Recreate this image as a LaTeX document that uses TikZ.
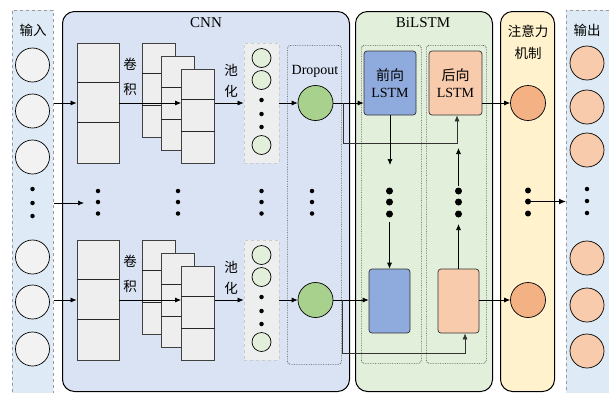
\documentclass[tikz,border=0pt]{standalone}
\usepackage{fontspec}
\setmainfont{Liberation Serif}
\newfontfamily\cjk{Noto Sans CJK SC}
\usetikzlibrary{arrows.meta}
\definecolor{inbg}{HTML}{DEEBF7}
\definecolor{incirc}{HTML}{F2F2F2}
\definecolor{cnnbg}{HTML}{DAE3F3}
\definecolor{fmapc}{HTML}{EEEEEE}
\definecolor{poolbg}{HTML}{EDEFEF}
\definecolor{poolc}{HTML}{E2EFDA}
\definecolor{dropc}{HTML}{A9D18E}
\definecolor{lstmbg}{HTML}{E2EFDA}
\definecolor{fwdc}{HTML}{8FAADC}
\definecolor{bwdc}{HTML}{F8CBAD}
\definecolor{attbg}{HTML}{FFF2CC}
\definecolor{attc}{HTML}{F4B183}
\definecolor{outc}{HTML}{F8CBAD}
\begin{document}
\begin{tikzpicture}[x=1pt,y=-1pt,
  bigbox/.style={draw=black, line width=1pt, rounded corners=12pt, inner sep=0},
  dashcol/.style={draw=black!40, dashed, line width=0.8pt, fill=inbg, inner sep=0},
  fmap/.style={draw=black!75, fill=fmapc, line width=0.8pt, inner sep=0},
  fline/.style={draw=black!85, line width=0.8pt},
  arr/.style={-{Latex[length=6pt,width=5pt]}, line width=0.7pt},
  conn/.style={line width=0.7pt, draw=black!80},
  sdot/.style={circle, fill=black, inner sep=0, minimum size=4.5pt},
  bdot/.style={circle, fill=black, inner sep=0, minimum size=7pt},
  cn/.style={font=\cjk\fontsize{13.5}{15}\selectfont, inner sep=0},
  lt/.style={font=\fontsize{14}{16}\selectfont, inner sep=0},
  ttl/.style={font=\fontsize{15}{17}\selectfont, inner sep=0},
  circ/.style={circle, draw=black, line width=0.7pt, inner sep=0, minimum size=34pt},
  scirc/.style={circle, draw=black, line width=0.7pt, fill=poolc, inner sep=0, minimum size=19pt},
  inner box/.style={draw=black!70, densely dotted, line width=0.7pt, rounded corners=3pt, inner sep=0},
  lstm/.style={draw=black!80, line width=0.7pt, rounded corners=3pt, inner sep=0, align=center}
]
\useasboundingbox (0,0) rectangle (609,392);
% background columns
\node[dashcol, minimum width=41, minimum height=385, anchor=north west] (inbox) at (12,10) {};
\node[dashcol, minimum width=45, minimum height=385, anchor=north west] (outbox) at (566,10) {};
\node[bigbox, fill=cnnbg, minimum width=287, minimum height=380, anchor=north west] (cnnbox) at (62,11) {};
\node[bigbox, fill=lstmbg, minimum width=137, minimum height=380, anchor=north west] (lstmbox) at (355,11) {};
\node[bigbox, fill=attbg, minimum width=54, minimum height=380, anchor=north west] (attbox) at (500,11) {};
% titles
\node[cn] (tin) at (33,30) {输入};
\node[cn] (tout) at (587,30) {输出};
\node[ttl] (tcnn) at (206,23) {CNN};
\node[ttl] (tlstm) at (423,23) {BiLSTM};
\node[cn] (tatt1) at (528,31) {注意力};
\node[cn] (tatt2) at (528,53) {机制};
% input / output circles
\foreach \y [count=\i] in {65,111,157,257,302,349} {
  \node[circ, fill=incirc] (in\i) at (32.5,\y) {};
}
\foreach \y [count=\i] in {63,107,150,258,305,351} {
  \node[circ, fill=outc] (out\i) at (587,\y) {};
}
\foreach \y [count=\i] in {189,203,216} { \node[sdot] (ind\i) at (32.5,\y) {}; }
\foreach \y [count=\i] in {189,201,213} { \node[sdot] (outd\i) at (587,\y) {}; }
% dropout and lstm inner boxes
\node[inner box, minimum width=54, minimum height=319, anchor=north west] (dropbox) at (287,45) {};
\node[inner box, minimum width=60, minimum height=318, anchor=north west] (fwdbox) at (361,45) {};
\node[inner box, minimum width=60, minimum height=318, anchor=north west] (bwdbox) at (426,45) {};
\node[lt] (tdrop) at (315,71) {Dropout};
% CNN rows
\foreach \dy/\r in {0/a,197/b} {
  \node[fmap, minimum width=42, minimum height=120] (conv\r) at (98,103+\dy) {};
  \draw[fline] ([yshift=-40pt]conv\r.north west) -- ([yshift=-40pt]conv\r.north east);
  \draw[fline] ([yshift=-80pt]conv\r.north west) -- ([yshift=-80pt]conv\r.north east);
  \node[fmap, minimum width=33, minimum height=94] (fa\r) at (158.5,90+\dy) {};
  \draw[fline] ([yshift=-31pt]fa\r.north west) -- ([yshift=-31pt]fa\r.north east);
  \draw[fline] ([yshift=-63pt]fa\r.north west) -- ([yshift=-63pt]fa\r.north east);
  \node[fmap, minimum width=33, minimum height=94] (fb\r) at (178,103.5+\dy) {};
  \draw[fline] ([yshift=-31pt]fb\r.north west) -- ([yshift=-31pt]fb\r.north east);
  \draw[fline] ([yshift=-63pt]fb\r.north west) -- ([yshift=-63pt]fb\r.north east);
  \node[fmap, minimum width=33, minimum height=94] (fc\r) at (198,116+\dy) {};
  \draw[fline] ([yshift=-31pt]fc\r.north west) -- ([yshift=-31pt]fc\r.north east);
  \draw[fline] ([yshift=-63pt]fc\r.north west) -- ([yshift=-63pt]fc\r.north east);
  \node[cn] (juan\r) at (130,64+\dy) {卷};
  \node[cn] (ji\r) at (130,89+\dy) {积};
  \node[cn] (chi\r) at (231,70+\dy) {池};
  \node[cn] (hua\r) at (231,91+\dy) {化};
  \node[draw=black!20, dashed, fill=poolbg, line width=0.8pt, inner sep=0, minimum width=35, minimum height=120] (pool\r) at (261.5,103+\dy) {};
  \node[scirc] (pc1\r) at (261.5,58+\dy) {};
  \node[scirc] (pc2\r) at (261.5,80+\dy) {};
  \node[sdot] (pd1\r) at (261.5,100+\dy) {};
  \node[sdot] (pd2\r) at (261.5,114+\dy) {};
  \node[sdot] (pd3\r) at (261.5,127+\dy) {};
  \node[scirc] (pc3\r) at (261.5,145+\dy) {};
  \node[circ, fill=dropc, minimum size=35pt] (drop\r) at (315.5,103+\dy) {};
  \node[circ, fill=attc, minimum size=35pt] (att\r) at (528,103+\dy) {};
}
% CNN middle dots
\foreach \x/\n in {98/m1,178/m2,261.5/m3,312/m4} {
  \node[sdot] (\n a) at (\x,191) {};
  \node[sdot] (\n b) at (\x,202) {};
  \node[sdot] (\n c) at (\x,213.5) {};
}
% LSTM blocks
\node[lstm, fill=fwdc, minimum width=52, minimum height=64, lt] (fwda) at (390,83) {{\cjk 前向}\\[1pt]LSTM};
\node[lstm, fill=bwdc, minimum width=53, minimum height=64, lt] (bwda) at (455.5,83) {{\cjk 后向}\\[1pt]LSTM};
\node[lstm, fill=fwdc, minimum width=41, minimum height=64] (fwdb) at (389.5,301) {};
\node[lstm, fill=bwdc, minimum width=41, minimum height=64] (bwdb) at (458.5,301) {};
\foreach \y [count=\i] in {191,202,214} {
  \node[bdot] (fd\i) at (389.5,\y) {};
  \node[bdot] (bd\i) at (458.5,\y) {};
  \node[sdot, minimum size=6pt] (ad\i) at (528,\y-0.5) {};
}
% connectors
\draw[arr] (inbox.east |- conva.west) -- (conva.west);
\draw[arr] (inbox.east |- convb.west) -- (convb.west);
\draw[arr] (inbox.east |- ind2) -- (84,203) coordinate (inmid);
\draw[arr] (conva.east) -- (conva.east -| fca.west);
\draw[arr] (convb.east) -- (convb.east -| fcb.west);
\draw[arr] (fca.east |- conva.east) -- (poola.west);
\draw[arr] (fcb.east |- convb.east) -- (poolb.west);
\draw[arr] (poola.east) -- (dropa.west);
\draw[arr] (poolb.east) -- (dropb.west);
\draw[arr] (dropa.east) -- (fwda.west |- dropa.east);
\draw[arr] (dropb.east) -- (fwdb.west |- dropb.east);
\coordinate (la1) at (343,103);
\coordinate (la2) at (343,143);
\coordinate (la3) at (457,143);
\draw[arr, conn] (la1) -- (la2) -- (la3) -- (la3 |- bwda.south);
\coordinate (lb1) at (342,300);
\coordinate (lb2) at (342,353);
\coordinate (lb3) at (465,353);
\draw[arr, conn] (lb1) -- (lb2) -- (lb3) -- (lb3 |- bwdb.south);
\draw[arr] (fwda.south) -- (390,165) coordinate (fa1);
\draw[arr] (389.5,222) coordinate (fb1) -- (fwdb.north);
\draw[arr] (bwdb.north) -- (458.5,224) coordinate (bb1);
\draw[arr] (458.5,186) coordinate (bb2) -- (458.5,148) coordinate (bb3);
\draw[arr] (bwda.east |- atta) -- (atta.west);
\draw[arr] (bwdb.east |- attb) -- (attb.west);
\draw[-{Latex[length=7pt,width=6pt]}, line width=1.2pt] (ad2.center) -- (outbox.west |- ad2);
\end{tikzpicture}
\end{document}
